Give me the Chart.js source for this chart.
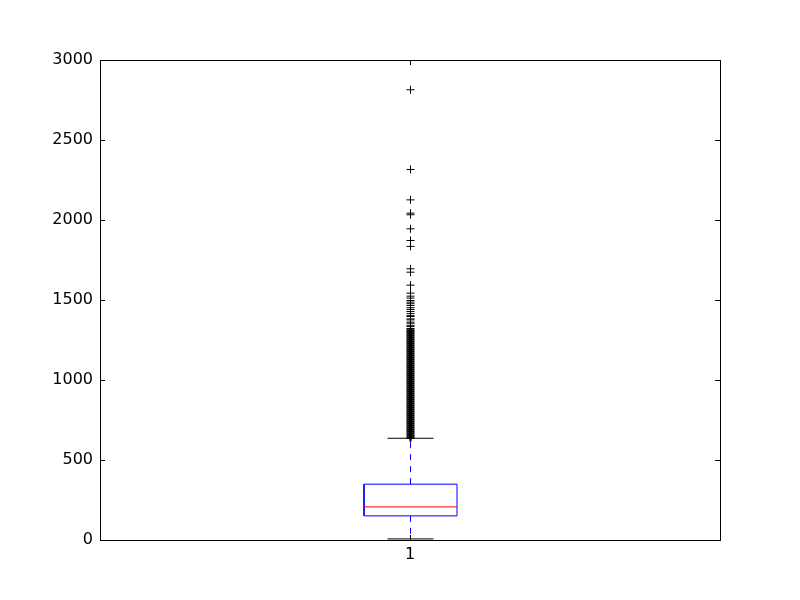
<!DOCTYPE html>
<html>
<head>
<meta charset="utf-8">
<script src="https://cdn.jsdelivr.net/npm/chart.js@4"></script>
<style>
  body { margin: 0; background: #fff; }
  canvas { display: block; }
</style>
</head>
<body>
<canvas id="chart" width="800" height="600"></canvas>
<script>
// 箱型圖資料
const categories = ["1"];
const yTicks = [0, 500, 1000, 1500, 2000, 2500, 3000];
const q1 = 154;
const median = 210;
const q3 = 352;
const whiskerLow = 10;
const whiskerHigh = 639;

// 密集的離群值（640~1310 幾乎連成一片）
const denseOutliers = [642, 655, 667, 680, 692, 705, 717, 730, 742, 755, 767, 780, 792,
  805, 817, 830, 842, 855, 867, 880, 892, 905, 917, 930, 942, 955, 967, 980, 992,
  1005, 1017, 1030, 1042, 1055, 1067, 1080, 1092, 1105, 1117, 1130, 1142, 1155, 1167,
  1180, 1192, 1205, 1217, 1230, 1242, 1255, 1267, 1280, 1292, 1305];

// 稀疏的離群值
const sparseOutliers = [1312, 1320, 1325, 1337, 1345, 1358, 1365, 1379, 1385, 1400, 1405,
  1418, 1431, 1444, 1455, 1469, 1480, 1490, 1500, 1515, 1527, 1546, 1596, 1677, 1698,
  1838, 1875, 1948, 2036, 2046, 2129, 2319, 2817];

const pos = 1;
const boxHalf = 0.075;
const capHalf = 0.037;

const line = (pts, color, extra) => Object.assign({
  data: pts, showLine: true, borderColor: color, borderWidth: 1,
  pointRadius: 0, tension: 0, fill: false
}, extra || {});

// 讓 1px 線條對齊像素
const crispPlugin = {
  id: "crisp",
  beforeDatasetsDraw(chart) { chart.ctx.save(); chart.ctx.translate(0.5, 0.5); },
  afterDatasetsDraw(chart) { chart.ctx.restore(); }
};

// 外框與內側刻度
const framePlugin = {
  id: "frame",
  afterDraw(chart) {
    const { ctx, chartArea: a, scales } = chart;
    ctx.save();
    ctx.strokeStyle = "#000";
    ctx.lineWidth = 1;
    ctx.beginPath();
    yTicks.forEach(v => {
      const y = Math.round(scales.y.getPixelForValue(v)) + 0.5;
      ctx.moveTo(a.left, y); ctx.lineTo(a.left + 5, y);
      ctx.moveTo(a.right, y); ctx.lineTo(a.right - 5, y);
    });
    const x = Math.round(scales.x.getPixelForValue(pos)) + 0.5;
    ctx.moveTo(x, a.bottom); ctx.lineTo(x, a.bottom - 5);
    ctx.moveTo(x, a.top); ctx.lineTo(x, a.top + 5);
    ctx.stroke();
    ctx.strokeRect(a.left + 0.5, a.top + 0.5, a.right - a.left, a.bottom - a.top);
    ctx.restore();
  }
};

new Chart(document.getElementById("chart"), {
  type: "scatter",
  data: {
    datasets: [
      line([{ x: pos - boxHalf, y: median }, { x: pos + boxHalf, y: median }], "#ff0000"),
      line([
        { x: pos - boxHalf, y: q1 }, { x: pos + boxHalf, y: q1 },
        { x: pos + boxHalf, y: q3 }, { x: pos - boxHalf, y: q3 },
        { x: pos - boxHalf, y: q1 }
      ], "#0000ff"),
      line([{ x: pos, y: q3 }, { x: pos, y: whiskerHigh }], "#0000ff", { borderDash: [6, 6] }),
      line([{ x: pos, y: q1 }, { x: pos, y: whiskerLow }], "#0000ff", { borderDash: [6, 6] }),
      line([{ x: pos - capHalf, y: whiskerHigh }, { x: pos + capHalf, y: whiskerHigh }], "#000"),
      line([{ x: pos - capHalf, y: whiskerLow }, { x: pos + capHalf, y: whiskerLow }], "#000"),
      {
        data: denseOutliers.map(v => ({ x: pos, y: v })),
        pointStyle: "cross", pointRadius: 4, borderWidth: 2,
        borderColor: "#000", backgroundColor: "#000"
      },
      {
        data: sparseOutliers.map(v => ({ x: pos, y: v })),
        pointStyle: "cross", pointRadius: 4, borderWidth: 1,
        borderColor: "#000", backgroundColor: "#000"
      }
    ]
  },
  options: {
    responsive: false,
    animation: false,
    devicePixelRatio: 1,
    layout: { padding: { top: 60, right: 80, left: 0, bottom: 0 } },
    plugins: { legend: { display: false }, tooltip: { enabled: false } },
    scales: {
      x: {
        type: "linear", min: 0.5, max: 1.5,
        afterBuildTicks: s => { s.ticks = [{ value: pos }]; },
        afterFit: s => { s.height = 60; },
        grid: { display: false, drawTicks: false },
        border: { display: false },
        ticks: {
          padding: 5, color: "#000",
          font: { family: "DejaVu Sans", size: 16 },
          callback: () => categories[0]
        }
      },
      y: {
        min: 0, max: 3000,
        afterBuildTicks: s => { s.ticks = yTicks.map(v => ({ value: v })); },
        afterFit: s => { s.width = 100; },
        grid: { display: false, drawTicks: false },
        border: { display: false },
        ticks: {
          padding: 7, color: "#000",
          font: { family: "DejaVu Sans", size: 16 },
          callback: v => String(v)
        }
      }
    }
  },
  plugins: [crispPlugin, framePlugin]
});
</script>
</body>
</html>
